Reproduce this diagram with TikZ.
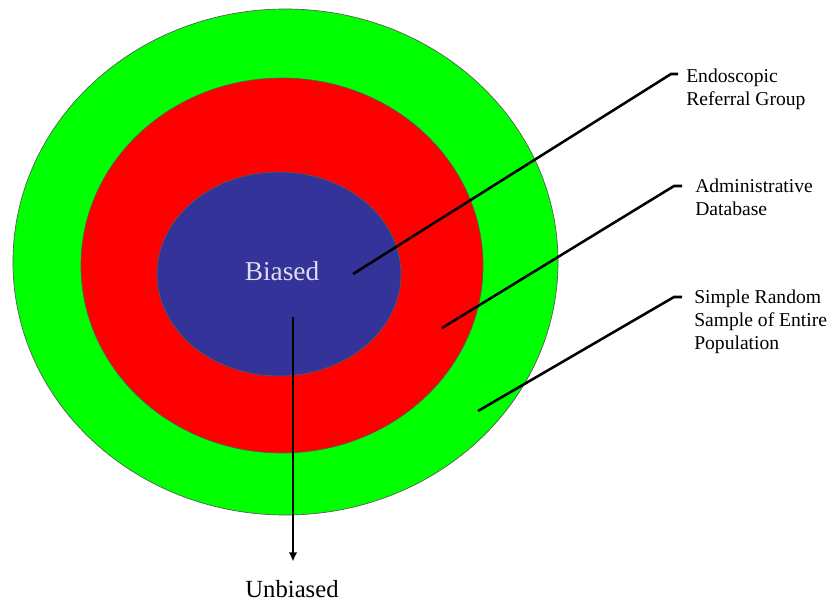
\documentclass[tikz,border=0pt]{standalone}
\usepackage{fontspec}
\setmainfont{Liberation Serif}
\usetikzlibrary{arrows.meta}
\definecolor{ringgreen}{RGB}{0,255,0}
\definecolor{ringred}{RGB}{255,0,0}
\definecolor{ringblue}{RGB}{51,51,153}
\definecolor{pale}{RGB}{222,222,236}
\begin{document}
\begin{tikzpicture}[
        x=0.75pt, y=-0.75pt,
        % Rings
        ring/.style={draw=black!65, line width=0.5pt},
        % Right-hand labels
        lab/.style={
            anchor=north west, align=left, inner sep=0pt,
            font=\fontsize{14.7}{17.25}\selectfont
        },
        % Leader lines
        lead/.style={line width=1.9pt, draw=black},
        % Arrow
        arr/.style={-{Latex[length=7pt,width=6.5pt]}, line width=1.9pt, draw=black}
    ]
        \useasboundingbox (0,0) rectangle (833,608);

        % Rings
        \draw [ring, fill=ringgreen] (285.5,262) ellipse [x radius=204.4pt, y radius=189.75pt];
        \draw [ring, fill=ringred] (282,265.5) ellipse [x radius=150.75pt, y radius=140.6pt];
        \draw [ring, fill=ringblue] (279,274) ellipse [x radius=91.5pt, y radius=76.5pt];

        % Centre and bottom texts
        \node [anchor=base, inner sep=0pt, text=pale, font=\fontsize{20.5}{24}\selectfont] (biased) at (282,280) {Biased};
        \node [anchor=base, inner sep=0pt, font=\fontsize{18.5}{22}\selectfont] (unbiased) at (292,597) {Unbiased};

        % Labels
        \node [lab] (endo) at (686,69) {Endoscopic\\Referral Group};
        \node [lab] (admin) at (695,179) {Administrative\\Database};
        \node [lab] (srs) at (694,290) {Simple Random\\Sample of Entire\\Population};

        % Leader end points
        \coordinate (e1) at (353,274);
        \coordinate (k1) at (671,74);
        \coordinate (e2) at (442,328);
        \coordinate (k2) at (674,186);
        \coordinate (e3) at (478,411);
        \coordinate (k3) at (674,297);
        \coordinate (a0) at (293,317);

        % Leaders
        \draw [lead] (e1) -- (k1) -- ++(7,0);
        \draw [lead] (e2) -- (k2) -- ++(8,0);
        \draw [lead] (e3) -- (k3) -- ++(8,0);

        % Arrow
        \draw [arr, shorten >=13.5pt] (a0) -- (a0 |- unbiased.north);

    \end{tikzpicture}
\end{document}
